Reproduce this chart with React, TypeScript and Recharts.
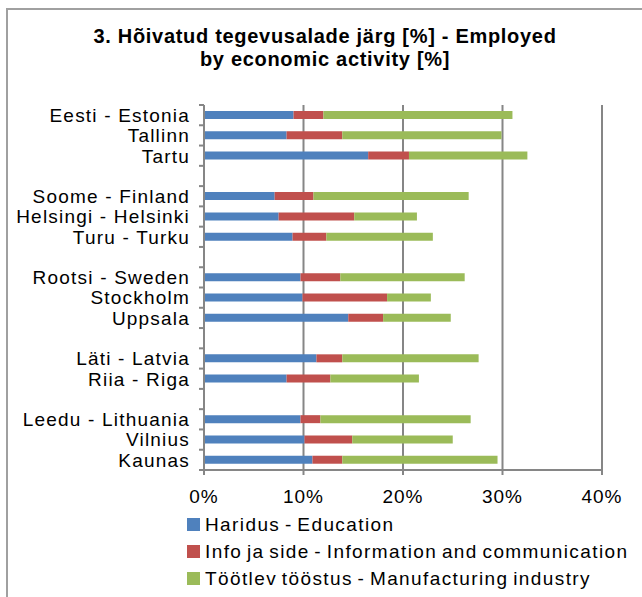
import React from 'react'
import { BarChart, Bar, XAxis, YAxis, CartesianGrid } from 'recharts'

// categories (blank rows separate the country groups)
const regions = [
  'Eesti - Estonia', 'Tallinn', 'Tartu', '',
  'Soome - Finland', 'Helsingi - Helsinki', 'Turu - Turku', '',
  'Rootsi - Sweden', 'Stockholm', 'Uppsala', '',
  'Läti - Latvia', 'Riia - Riga', '',
  'Leedu - Lithuania', 'Vilnius', 'Kaunas',
]

const education = [9.0, 8.3, 16.5, null, 7.1, 7.5, 8.9, null, 9.7, 9.9, 14.5, null, 11.3, 8.3, null, 9.7, 10.1, 10.9]
const infoComm = [3.0, 5.6, 4.1, null, 3.9, 7.6, 3.4, null, 4.0, 8.5, 3.5, null, 2.6, 4.4, null, 2.0, 4.8, 3.0]
const manufacturing = [19.0, 16.0, 11.9, null, 15.6, 6.3, 10.7, null, 12.5, 4.4, 6.8, null, 13.7, 8.9, null, 15.1, 10.1, 15.6]

const xTicks = [0, 10, 20, 30, 40]

const seriesNames = [
  'Haridus - Education',
  'Info ja side - Information and communication',
  'Töötlev tööstus - Manufacturing industry',
]
const colors = ['#4F81BD', '#C0504D', '#9BBB59']

const data = regions.map((name, i) => ({
  name,
  edu: education[i],
  info: infoComm[i],
  manu: manufacturing[i],
}))

const FONT = 'Arial, "Liberation Sans", sans-serif'
const PLOT_TOP = 105
const PLOT_BOTTOM = 470
const X_AXIS_H = 30
const BAND = (PLOT_BOTTOM - PLOT_TOP) / regions.length

const CategoryTick = (props: any) => {
  const { x, y, payload, index } = props
  return (
    <g>
      <text x={x} y={y} dy="0.36em" textAnchor="end" fontSize={19} fontFamily={FONT} letterSpacing={1.2} fill="#000">
        {payload.value}
      </text>
      <line x1={x + 9} x2={x + 14} y1={y - BAND / 2} y2={y - BAND / 2} stroke="#868686" strokeWidth={2} />
      {index === regions.length - 1 && (
        <line x1={x + 9} x2={x + 14} y1={y + BAND / 2} y2={y + BAND / 2} stroke="#868686" strokeWidth={2} />
      )}
    </g>
  )
}

export default function App() {
  return (
    <div style={{ position: 'absolute', left: 0, top: 0, width: 642, height: 597, background: '#fff', overflow: 'hidden' }}>
      <div
        style={{
          position: 'absolute', left: 6, top: 8, width: 700, height: 700,
          borderLeft: '2px solid #a0a0a0', borderTop: '2px solid #a0a0a0',
        }}
      />
      <div
        style={{
          position: 'absolute', left: 0, top: 25, width: 650, textAlign: 'center',
          fontFamily: FONT, fontWeight: 'bold', fontSize: 20, lineHeight: '23px', letterSpacing: 0.7, color: '#000',
        }}
      >
        3. Hõivatud tegevusalade järg [%] - Employed
        <br />
        by economic activity [%]
      </div>
      <BarChart
        width={642}
        height={597}
        data={data}
        layout="vertical"
        margin={{ top: PLOT_TOP, right: 40, bottom: 597 - PLOT_BOTTOM - X_AXIS_H, left: 0 }}
        barSize={8}
        style={{ position: 'absolute', left: 0, top: 0 }}
      >
        <CartesianGrid horizontal={false} stroke="#868686" strokeWidth={2} />
        <XAxis
          type="number"
          domain={[0, 40]}
          ticks={xTicks}
          tickFormatter={(v: number) => `${v}%`}
          axisLine={{ stroke: '#868686', strokeWidth: 2 }}
          tickLine={{ stroke: '#868686', strokeWidth: 2 }}
          tickSize={5}
          tickMargin={15}
          tick={{ fontSize: 19, fontFamily: FONT, fill: '#000', letterSpacing: 1 }}
          height={X_AXIS_H}
        />
        <YAxis
          type="category"
          dataKey="name"
          width={204}
          axisLine={{ stroke: '#868686', strokeWidth: 2 }}
          tickLine={false}
          tickSize={0}
          tickMargin={14}
          interval={0}
          tick={<CategoryTick />}
        />
        <Bar dataKey="edu" stackId="a" fill={colors[0]} name={seriesNames[0]} isAnimationActive={false} />
        <Bar dataKey="info" stackId="a" fill={colors[1]} name={seriesNames[1]} isAnimationActive={false} />
        <Bar dataKey="manu" stackId="a" fill={colors[2]} name={seriesNames[2]} isAnimationActive={false} />
      </BarChart>
      <div
        style={{
          position: 'absolute', left: 187, top: 511, fontFamily: FONT, fontSize: 19,
          letterSpacing: 1.4, wordSpacing: -2, color: '#000',
        }}
      >
        {seriesNames.map((n, i) => (
          <div key={n} style={{ display: 'flex', alignItems: 'center', height: 27, whiteSpace: 'nowrap' }}>
            <span style={{ display: 'inline-block', width: 13, height: 13, background: colors[i], marginRight: 5 }} />
            {n}
          </div>
        ))}
      </div>
    </div>
  )
}
